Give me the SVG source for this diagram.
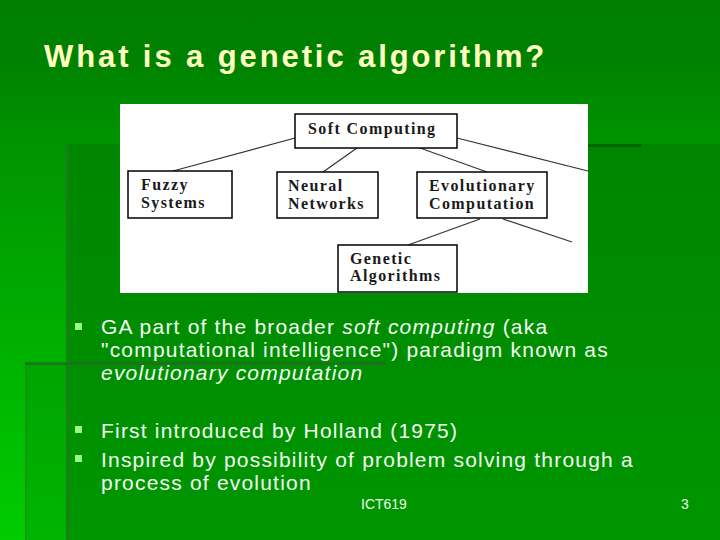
<svg xmlns="http://www.w3.org/2000/svg" width="720" height="540" viewBox="0 0 720 540">
<defs>
<linearGradient id="bg" x1="0" y1="0" x2="0" y2="1">
<stop offset="0" stop-color="#007e00"/>
<stop offset="0.1" stop-color="#008000"/>
<stop offset="0.27" stop-color="#009400"/>
<stop offset="1" stop-color="#00cc00"/>
</linearGradient>
<linearGradient id="p1" x1="0" y1="0" x2="0" y2="1">
<stop offset="0" stop-color="#008500"/>
<stop offset="1" stop-color="#009600"/>
</linearGradient>
<linearGradient id="p2" x1="0" y1="0" x2="0" y2="1">
<stop offset="0" stop-color="#00a400"/>
<stop offset="1" stop-color="#00b400"/>
</linearGradient>
<style>
.box{fill:#ffffff;stroke:#000000;stroke-width:1.5}
.bt{font-family:"Liberation Serif","Times New Roman",serif;font-weight:bold;font-size:16px;letter-spacing:1.4px;fill:#1a1a1a}
.body{font-family:"Liberation Sans",Arial,sans-serif;font-size:21px;letter-spacing:1.2px;fill:#f2fff2}
.bul{fill:#99ff88}
.foot{font-family:"Liberation Sans",Arial,sans-serif;font-size:14px;fill:#e6ffe6}
.edge{stroke:#333333;stroke-width:1.2;fill:none}
</style>
</defs>
<rect x="0" y="0" width="720" height="540" fill="url(#bg)"/>
<rect x="25" y="363" width="41" height="177" fill="url(#p2)"/>
<rect x="66" y="144" width="654" height="396" fill="url(#p1)"/>
<rect x="66" y="144" width="3" height="396" fill="#1f7a1f" opacity="0.7"/>
<rect x="588" y="144" width="54" height="3" fill="#006400"/>
<rect x="25" y="363" width="2" height="177" fill="#1f8a1f" opacity="0.6"/>
<rect x="25" y="362" width="360" height="3" fill="#1e6e1e" opacity="0.8"/>

<text x="44" y="67" font-family="'Liberation Sans',Arial,sans-serif" font-weight="bold" font-size="31" letter-spacing="2.9" fill="#ffffc0">What is a genetic algorithm?</text>

<rect x="120" y="104" width="468" height="189" fill="#ffffff"/>

<g id="connectors">
<line class="edge" x1="295" y1="138" x2="173" y2="171"/>
<line class="edge" x1="357" y1="148" x2="323" y2="172"/>
<line class="edge" x1="420" y1="148" x2="487" y2="172"/>
<line class="edge" x1="457" y1="138" x2="588" y2="171"/>
<line class="edge" x1="480" y1="219" x2="408" y2="245"/>
<line class="edge" x1="503" y1="219" x2="572" y2="242"/>
</g>

<g id="soft-computing">
<rect class="box" x="295" y="114" width="162" height="34"/>
<text class="bt" x="308" y="134">Soft Computing</text>
</g>
<g id="fuzzy-systems">
<rect class="box" x="128" y="171" width="104" height="47"/>
<text class="bt" x="141" y="190">Fuzzy</text>
<text class="bt" x="141" y="208">Systems</text>
</g>
<g id="neural-networks">
<rect class="box" x="277" y="172" width="101" height="46"/>
<text class="bt" x="288" y="191">Neural</text>
<text class="bt" x="288" y="209">Networks</text>
</g>
<g id="evolutionary-computation">
<rect class="box" x="417" y="172" width="130" height="46"/>
<text class="bt" x="429" y="191">Evolutionary</text>
<text class="bt" x="429" y="209">Computation</text>
</g>
<g id="genetic-algorithms">
<rect class="box" x="338" y="245" width="119" height="47"/>
<text class="bt" x="350" y="264">Genetic</text>
<text class="bt" x="350" y="281">Algorithms</text>
</g>

<rect class="bul" x="75" y="323" width="7" height="7"/>
<text class="body" x="101" y="334">GA part of the broader <tspan font-style="italic">soft computing</tspan> (aka</text>
<text class="body" x="101" y="357">"computational intelligence") paradigm known as</text>
<text class="body" x="101" y="380" font-style="italic">evolutionary computation</text>

<rect class="bul" x="75" y="426" width="7" height="7"/>
<text class="body" x="101" y="438">First introduced by Holland (1975)</text>
<rect class="bul" x="75" y="455" width="7" height="7"/>
<text class="body" x="101" y="467">Inspired by possibility of problem solving through a</text>
<text class="body" x="101" y="490">process of evolution</text>

<text class="foot" x="361" y="509">ICT619</text>
<text class="foot" x="681" y="509">3</text>
</svg>
